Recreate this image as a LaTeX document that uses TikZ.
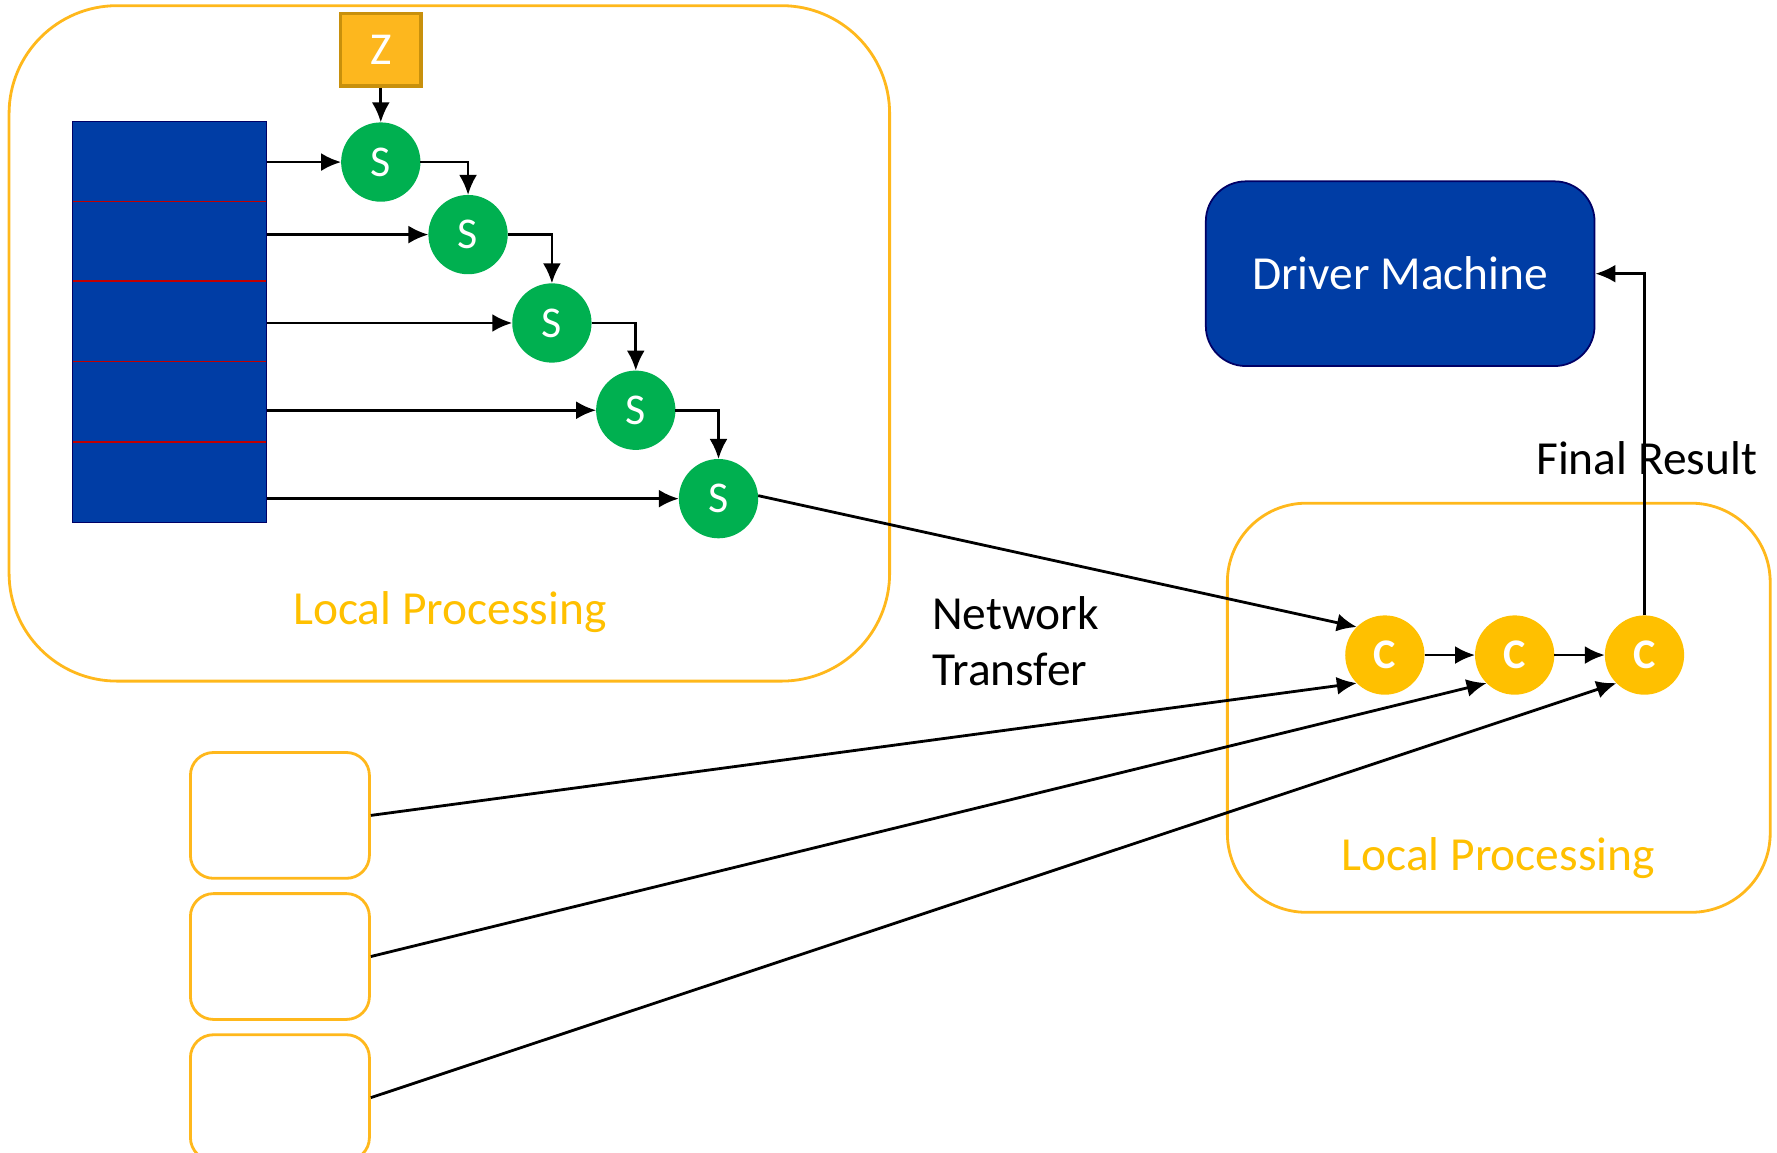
\documentclass[tikz,border=0pt]{standalone}
\usepackage{fontspec}
\setmainfont{Carlito}
\usepackage{xcolor}
\usetikzlibrary{arrows.meta,positioning}
\definecolor{darkblue}{RGB}{0,61,165}
\definecolor{gold}{RGB}{255,192,0}
\definecolor{framegold}{RGB}{255,184,28}
\definecolor{zgold}{RGB}{253,183,30}
\definecolor{zborder}{RGB}{200,144,12}
\definecolor{sgreen}{RGB}{0,176,80}
\definecolor{rowred}{RGB}{192,0,0}

\begin{document}
\begin{tikzpicture}[x=0.11333mm, y=-0.11333mm, line width=0.8pt,
	>={Latex[length=2mm,width=1.8mm]},
	txt/.style={font=\fontsize{13.5}{16}\selectfont},
	frame/.style={draw=framegold, line width=0.8pt},
	snode/.style={shape=circle, fill=sgreen, text=white, minimum size=7.93mm, inner sep=0pt, outer sep=0pt, font=\fontsize{12.5}{14}\selectfont},
	cnode/.style={shape=circle, fill=gold, text=white, minimum size=7.93mm, inner sep=0pt, outer sep=0pt, font=\bfseries\fontsize{12}{14}\selectfont},
	worker/.style={draw=framegold, line width=0.8pt, rounded corners=2.3mm, minimum width=17.9mm, minimum height=12.58mm}]
	\useasboundingbox (0,0) rectangle (1568,1017);

	% group frames
	\draw[frame, rounded corners=10.8mm] (8,5) rectangle (785,601);
	\draw[frame, rounded corners=7.9mm] (1083,444) rectangle (1562,805);
	\node[txt, text=gold] (lp1) at (397,540) {Local Processing};
	\node[txt, text=gold] (lp2) at (1322,757) {Local Processing};

	% partitioned data
	\node[fill=darkblue, draw=blue!40!black, line width=0.4pt, minimum width=19.38mm, minimum height=40.12mm, inner sep=0pt] (data) at (149.5,284) {};
	\foreach \y in {178,248,319,390}
		\draw[rowred, line width=0.4pt] (64.5,\y) -- (234.5,\y);

	\node[fill=zgold, draw=zborder, line width=1pt, minimum width=8.05mm, minimum height=7.25mm, text=white, font=\fontsize{13}{15}\selectfont] (z) at (336,44) {Z};

	\foreach \i/\x/\y in {1/336/143, 2/413/207, 3/487/285, 4/561/362, 5/634/440}
		\node[snode] (s\i) at (\x,\y) {S};

	\path[->] (z) edge (s1);
	\foreach \i in {1,...,5}
		\path[->] (data.east |- s\i) edge (s\i);
	\foreach \i/\j in {1/2, 2/3, 3/4, 4/5}
		\draw[->] (s\i) -| (s\j);

	% combiners
	\node[cnode] (c1) at (1222,578) {C};
	\node[cnode, right=5.05mm of c1] (c2) {C};
	\node[cnode, right=5.05mm of c2] (c3) {C};
	\path[->] (c1) edge (c2);
	\path[->] (c2) edge (c3);

	\node[txt, fill=darkblue, draw=blue!40!black, line width=0.5pt, rounded corners=4mm, minimum width=38.87mm, minimum height=18.47mm, text=white] (driver) at (1235.5,241.5) {Driver Machine};
	\node[txt] (final) at (1453,404) {Final Result};
	\draw[->] (c3) |- (driver);

	\node[txt, align=left, anchor=west] (net) at (811,566) {Network\\Transfer};
	\path[->] ([yshift=0.3mm]s5.east) edge (c1.north west);

	% other workers
	\node[worker] (w1) at (247,719.5) {};
	\node[worker, below=1.25mm of w1] (w2) {};
	\node[worker, below=1.25mm of w2] (w3) {};
	\path[->] (w1.east) edge (c1.south west);
	\path[->] (w2.east) edge (c2.south west);
	\path[->] (w3.east) edge (c3.south west);
\end{tikzpicture}
\end{document}
